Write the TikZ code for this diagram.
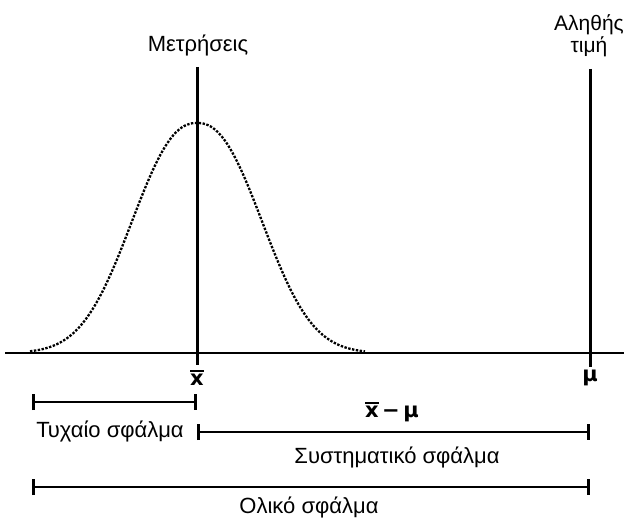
\documentclass[tikz,border=0pt]{standalone}
\usepackage{fontspec}
\setmainfont{Liberation Sans}
\newfontfamily\lblfont{DejaVu Sans}
\usepackage{tikz}
\usetikzlibrary{positioning,arrows.meta,calc}
\newcommand{\barx}{\leavevmode\vbox{\hrule height 1.8pt\kern2pt\hbox{x}}}

\begin{document}
\begin{tikzpicture}[x=1pt, y=-1pt,
    caption/.style={inner sep=1pt, font=\fontsize{22}{26}\selectfont},
    symb/.style={inner sep=0pt, font=\lblfont\bfseries\fontsize{21}{24}\selectfont},
    vline/.style={line width=3pt},
    axis/.style={line width=2.8pt},
    gauss/.style={line width=2.3pt, dash pattern=on 2.4pt off 1.5pt},
    errbar/.style={{Bar[width=16pt]}-{Bar[width=16pt]}, line width=2.6pt}
]
    \useasboundingbox (0,0) rectangle (624,519);

    % labels on top
    \node[caption] (meas) at (198,45) {Μετρήσεις};
    \node[caption, font=\fontsize{21}{25}\selectfont, align=center] (truev) at (589,36) {Αληθής\\[-3pt]τιμή};

    % axis and the two marks
    \coordinate (axL) at (5,353);
    \coordinate (axR) at (624,353);
    \coordinate (meastop) at (197,67);
    \coordinate (truetop) at (590,69);
    \node[symb] (xbar) at (197,378) {\barx};
    \node[symb] (mu) at (590,378) {μ};

    \draw[axis] (axL) -- (axR);
    \draw[vline] (meastop) -- ([yshift=5pt]xbar.north);
    \draw[vline] (truetop) -- ([yshift=3pt]mu.north);

    % the measurements
    \draw[gauss] plot[domain=-167:168, samples=140]
        ({197+\x}, {353-230*exp(-0.5*((abs(\x)+0.01)/62)^2.3)});

    % errors
    \coordinate (rndL) at (32,402);
    \coordinate (rndR) at (197,402);
    \coordinate (sysL) at (197,432);
    \coordinate (sysR) at (590,432);
    \coordinate (totL) at (32,487);
    \coordinate (totR) at (590,487);

    \draw[errbar] (rndL) -- (rndR);
    \draw[errbar] (sysL) -- (sysR);
    \draw[errbar] (totL) -- (totR);

    \node[caption] (rnd) at (110,431) {Τυχαίο σφάλμα};
    \node[symb] (diff) at (392,412) {\barx\,−\,μ};
    \node[caption] (sys) at (397,457) {Συστηματικό σφάλμα};
    \node[caption] (tot) at (309,507) {Ολικό σφάλμα};
\end{tikzpicture}
\end{document}
